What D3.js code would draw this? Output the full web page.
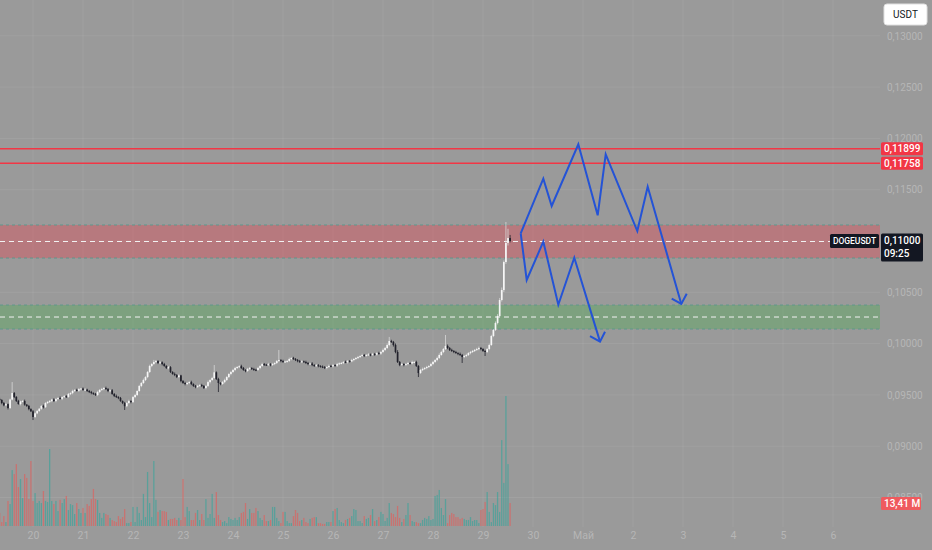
<!DOCTYPE html>
<html>
<head>
<meta charset="utf-8">
<script src="https://cdn.jsdelivr.net/npm/d3@7"></script>
<style>
html,body{margin:0;padding:0;background:#9a9a9a;}
svg{display:block;font-family:Roboto,"Liberation Sans",sans-serif;}
</style>
</head>
<body>
<div id="chart"></div>
<script>
// DOGEUSDT hourly candles, first one 19 Apr 08:00
// prices in units of 0.00001 USDT
const openFirst = 9460;
const closes = [
  9450,9421,9398,9410,9372,9455,9518,9480,9440,9411,9436,9440,9405,9392,9362,9340,9285,9320,9343,9365,9392,9380,9421,9431,
  9440,9455,9440,9460,9470,9462,9479,9488,9480,9509,9518,9538,9548,9540,9557,9562,9548,9552,9538,9528,9518,9509,9499,9528,
  9548,9557,9567,9557,9538,9545,9509,9489,9479,9470,9440,9421,9390,9421,9440,9430,9479,9499,9538,9587,9616,9645,9674,9723,
  9782,9801,9821,9830,9811,9818,9801,9782,9762,9770,9723,9704,9694,9674,9690,9635,9616,9606,9616,9625,9606,9587,9577,9587,
  9596,9587,9567,9587,9625,9645,9665,9720,9655,9616,9606,9625,9645,9674,9704,9723,9743,9762,9772,9780,9762,9743,9733,9752,
  9762,9752,9745,9743,9762,9782,9801,9795,9791,9800,9791,9801,9811,9830,9840,9830,9821,9826,9830,9850,9860,9850,9840,9830,
  9821,9828,9821,9811,9801,9806,9791,9782,9790,9782,9775,9772,9762,9772,9782,9778,9791,9785,9801,9808,9811,9821,9818,9830,
  9826,9840,9850,9860,9869,9879,9889,9882,9889,9895,9889,9899,9892,9908,9902,9918,9938,9957,9986,10025,10016,9986,9918,9821,
  9791,9801,9791,9801,9811,9806,9821,9821,9782,9713,9743,9752,9762,9772,9782,9801,9821,9840,9860,9889,9918,9947,9977,9957,
  9938,9928,9918,9908,9899,9889,9869,9879,9889,9908,9918,9928,9938,9947,9957,9947,9928,9918,9947,9986,10074,10133,10201,10269,
  10425,10522,10795,10981,11029,11000
];
const upperWick = [
  12,8,10,15,6,9,107,10,8,12,7,9,14,6,10,8,12,9,11,7,10,13,8,9,
  10,7,12,9,8,14,6,11,9,10,7,13,8,12,9,6,10,15,8,9,11,7,10,12,
  9,11,8,13,10,7,12,9,14,8,10,6,11,9,13,8,10,12,7,11,9,14,8,10,
  12,9,20,10,8,13,9,11,7,12,10,8,14,9,11,6,10,12,8,9,13,7,10,11,
  8,12,9,10,14,7,11,71,9,12,8,10,13,9,7,11,10,12,8,9,14,10,7,11,
  10,8,12,9,11,7,13,10,8,12,9,11,7,10,98,9,12,8,10,13,7,11,9,10,
  11,9,7,12,10,8,13,9,11,10,7,12,9,8,14,10,11,7,12,9,10,8,13,9,
  10,12,8,9,11,7,13,10,9,12,8,11,10,7,12,9,14,11,15,40,12,10,15,18,
  9,12,8,10,11,7,13,9,12,8,10,14,9,11,7,12,10,9,13,15,12,10,107,14,
  10,12,9,11,8,13,10,9,12,8,11,10,9,12,14,10,8,11,9,13,12,10,15,18,
  20,25,15,204,90,30
];
const lowerWick = [
  8,12,9,7,14,10,8,11,9,6,13,8,10,9,12,7,30,11,8,10,9,12,7,10,
  9,11,8,12,10,7,13,9,10,8,11,12,9,7,10,13,8,11,9,10,12,8,9,11,
  10,8,12,9,11,13,8,10,9,12,7,11,37,10,8,12,9,11,10,8,12,9,10,11,
  9,12,8,10,11,9,13,8,10,12,9,7,11,10,8,12,9,13,10,8,11,9,12,10,
  8,11,9,12,10,13,8,9,10,88,12,8,11,9,10,13,8,12,9,11,10,8,12,9,
  11,9,10,12,8,11,9,13,10,8,12,9,11,10,8,12,9,10,11,8,13,9,10,12,
  9,11,8,10,12,9,11,10,8,13,9,11,10,12,8,9,11,10,12,8,10,11,9,12,
  10,8,12,9,11,10,8,13,9,10,12,8,11,9,10,12,8,11,9,12,10,15,12,10,
  11,9,12,8,10,11,9,13,10,39,8,11,9,12,10,8,11,9,12,10,8,11,9,12,
  10,9,11,8,12,10,58,9,11,10,12,9,10,8,11,12,9,39,10,12,8,11,10,14,
  12,15,20,18,25,14
];
// volume, millions
const volumes = [
  7.6,2.3,5.8,2.3,14.6,12.8,32.6,30.3,36.1,22.7,
  27.4,16.3,30.3,28.0,15.7,37.9,14.6,19.2,13.4,14.6,
  13.4,20.4,14.6,14.0,44.9,14.6,12.8,14.6,8.7,15.2,
  13.4,15.7,17.5,9.3,12.8,12.2,7.0,13.4,9.9,7.6,
  10.5,7.6,12.8,11.7,15.7,21.6,15.7,15.2,7.6,
  4.7,7.6,7.0,6.4,4.7,3.5,2.9,2.3,5.8,4.1,
  5.2,9.9,1.7,1.7,2.3,11.1,2.3,11.1,7.6,3.5,
  18.7,5.2,31.5,13.4,5.2,37.9,15.2,8.2,9.3,8.7,
  8.7,8.2,3.5,4.1,4.1,4.7,3.5,4.7,3.5,27.4,
  5.2,11.1,8.7,3.5,3.5,7.6,9.3,3.5,7.0,
  3.5,15.7,4.7,7.0,18.7,4.7,19.8,6.4,3.5,2.3,
  2.9,1.7,5.2,4.1,3.5,4.7,3.5,5.2,7.6,8.2,
  13.4,
  4.1,9.9,7.6,7.6,10.5,8.7,4.7,3.5,6.4,2.9,2.9,3.5,11.1,11.1,4.7,2.9,1.7,8.2,8.2,2.9,1.7,1.7,5.8,9.3,7.6,
  2.9,3.5,4.7,2.3,1.7,4.1,4.7,5.2,5.2,1.7,1.7,1.2,1.2,2.3,2.3,2.3,8.7,9.9,10.5,3.5,2.3,1.7,3.5,4.1,4.7,
  5.8,9.9,9.3,2.9,2.9,1.7,5.8,4.1,4.7,6.4,9.9,2.9,3.5,5.2,8.2,7.0,2.9,4.7,13.4,7.6,7.0,5.2,11.7,4.7,
  2.3,4.1,6.4,13.4,6.4,2.9,2.3,2.3,1.7,1.7,3.5,4.7,4.1,5.8,3.5,4.1,17.5,18.1,21.0,10.5,6.4,15.7,1.7,6.4,
  7.6,7.0,5.2,5.2,4.1,4.7,4.1,3.5,3.5,
  5.2,2.9,3.5,3.5,1.7,9.3,9.9,14.0,19.8,8.2,2.3,13.4,12.2,19.8,8.2,50.1,25.1,75.8,36.1,13.41
];

const priceTicks = [0.085,0.09,0.095,0.10,0.105,0.11,0.115,0.12,0.125,0.13];
const xTickLabels = ["20","21","22","23","24","25","26","27","28","29","30","Май","2","3","4","5","6"];
const levels = [0.11899, 0.11758];
const redZone = [0.10834, 0.11156];
const greenZone = [0.10142, 0.10376];
const lastPrice = 0.11000;
const lastVolume = "13,41 M";
const countdown = "09:25";
const symbol = "DOGEUSDT";

// forecast drawings: [time, price]
const upperPath = [
  ["2023-04-29 18:06",0.11075],["2023-04-30 04:57",0.11607],["2023-04-30 08:58",0.11341],
  ["2023-04-30 21:45",0.11942],["2023-05-01 07:03",0.11250],["2023-05-01 10:54",0.11845],
  ["2023-05-02 02:04",0.11097],["2023-05-02 07:03",0.11529],["2023-05-02 23:11",0.10386]
];
const upperArrow = [["2023-05-02 18:35",0.10438],["2023-05-02 23:11",0.10386],["2023-05-03 01:47",0.10486]];
const lowerPath = [
  ["2023-04-29 18:06",0.11075],["2023-04-29 20:59",0.10620],["2023-04-30 04:57",0.10993],
  ["2023-04-30 12:09",0.10379],["2023-04-30 19:49",0.10837],["2023-05-01 08:10",0.10019]
];
const lowerArrow = [["2023-05-01 03:22",0.10074],["2023-05-01 08:10",0.10019],["2023-05-01 10:34",0.10116]];

const width = 932, height = 550;
const plotRight = 880, plotBottom = 527;
const bg = "#9a9a9a", axisText = "#b6b6b6";

const parse = d3.timeParse("%Y-%m-%d %H:%M");
const t0 = new Date(2023, 3, 19, 8);

const candles = closes.map((c, i) => {
  const o = i ? closes[i-1] : openFirst;
  return {
    t: d3.timeHour.offset(t0, i),
    o: o / 1e5, c: c / 1e5,
    h: (Math.max(o, c) + upperWick[i]) / 1e5,
    l: (Math.min(o, c) - lowerWick[i]) / 1e5,
    v: volumes[i]
  };
});

const x = d3.scaleTime()
  .domain([new Date(2023, 3, 20), new Date(2023, 4, 7)])
  .range([33, 883]);
const y = d3.scaleLinear()
  .domain([0.085, 0.13])
  .range([497.5, 35.8]);
const yv = d3.scaleLinear()
  .domain([0, 80])
  .range([526, 388.8]);

const ru = d3.formatLocale({decimal: ",", thousands: " ", grouping: [3], currency: ["", ""]});
const fmt = ru.format(".5f");
const dayTicks = d3.timeDay.range(new Date(2023, 3, 20), new Date(2023, 4, 7));

let svg = d3.select("#chart").append("svg")
  .attr("width", width)
  .attr("height", height);

svg.append("rect").attr("width", width).attr("height", height).attr("fill", bg);

svg.append("defs").append("clipPath").attr("id", "plot")
  .append("rect").attr("width", plotRight).attr("height", plotBottom);

// grid
let grid = svg.append("g").attr("clip-path", "url(#plot)");
grid.selectAll(".vg").data(dayTicks).enter().append("line")
  .attr("x1", d => x(d)).attr("x2", d => x(d))
  .attr("y1", 0).attr("y2", plotBottom)
  .attr("stroke", "rgba(255,255,255,0.07)");
grid.selectAll(".hg").data(priceTicks).enter().append("line")
  .attr("x1", 0).attr("x2", plotRight)
  .attr("y1", d => y(d)).attr("y2", d => y(d))
  .attr("stroke", "rgba(255,255,255,0.07)");

let plot = svg.append("g").attr("clip-path", "url(#plot)");

// zones
function zone(range, fill) {
  plot.append("rect")
    .attr("x", 0).attr("width", plotRight)
    .attr("y", y(range[1])).attr("height", y(range[0]) - y(range[1]))
    .attr("fill", fill);
  range.forEach(p => {
    plot.append("line")
      .attr("x1", 0).attr("x2", plotRight)
      .attr("y1", y(p)).attr("y2", y(p))
      .attr("stroke", "#5f978c").attr("stroke-width", 1)
      .attr("stroke-dasharray", "3,3");
  });
  const mid = (range[0] + range[1]) / 2;
  plot.append("line")
    .attr("x1", 0).attr("x2", plotRight)
    .attr("y1", y(mid)).attr("y2", y(mid))
    .attr("stroke", "#f2f2f2").attr("stroke-width", 1)
    .attr("stroke-dasharray", "5,4");
}
zone(redZone, "rgba(242,54,69,0.33)");
zone(greenZone, "rgba(76,175,80,0.36)");

// levels
plot.selectAll(".lvl").data(levels).enter().append("line")
  .attr("x1", 0).attr("x2", plotRight)
  .attr("y1", d => y(d)).attr("y2", d => y(d))
  .attr("stroke", "#f23645").attr("stroke-width", 1.5);

// volume
plot.append("g").selectAll("rect").data(candles).enter().append("rect")
  .attr("x", d => x(d.t) - 0.65)
  .attr("width", 1.3)
  .attr("y", d => yv(d.v))
  .attr("height", d => yv(0) - yv(d.v))
  .attr("fill", d => d.c >= d.o ? "rgba(38,166,154,0.55)" : "rgba(239,83,80,0.55)");

// candles
const upCol = "#f6f6f6", downCol = "#22222c";
let cg = plot.append("g");
cg.selectAll("line").data(candles).enter().append("line")
  .attr("x1", d => x(d.t)).attr("x2", d => x(d.t))
  .attr("y1", d => y(d.h)).attr("y2", d => y(d.l))
  .attr("stroke", d => d.c >= d.o ? "#d8d8d8" : downCol)
  .attr("stroke-width", 0.8);
cg.selectAll("rect").data(candles).enter().append("rect")
  .attr("x", d => x(d.t) - 0.85)
  .attr("width", 1.7)
  .attr("y", d => y(Math.max(d.o, d.c)))
  .attr("height", d => Math.max(1, Math.abs(y(d.o) - y(d.c))))
  .attr("fill", d => d.c >= d.o ? upCol : downCol);

// forecast
const line = d3.line().x(d => x(parse(d[0]))).y(d => y(d[1]));
[upperPath, upperArrow, lowerPath, lowerArrow].forEach(pts => {
  plot.append("path")
    .attr("d", line(pts))
    .attr("fill", "none")
    .attr("stroke", "#2453d6")
    .attr("stroke-width", 2)
    .attr("stroke-linejoin", "miter");
});

// x axis
let xAxis = svg.append("g")
  .attr("transform", `translate(0,${plotBottom + 5})`)
  .call(d3.axisBottom(x).tickValues(dayTicks).tickFormat((d, i) => xTickLabels[i]).tickSize(0).tickPadding(0));
xAxis.select(".domain").remove();
xAxis.selectAll("text")
  .attr("fill", axisText)
  .style("font-size", "10.5px")
  .style("font-family", "Roboto, sans-serif");

// y axis
let yAxis = svg.append("g")
  .attr("transform", `translate(${plotRight + 2},0)`)
  .call(d3.axisRight(y).tickValues(priceTicks).tickFormat(fmt).tickSize(0).tickPadding(5));
yAxis.select(".domain").remove();
yAxis.selectAll("text")
  .attr("fill", axisText)
  .style("font-size", "10px")
  .style("font-family", "Roboto, sans-serif");

// price labels
function tag(yc, h, fill, lines, w) {
  svg.append("rect")
    .attr("x", plotRight + 1).attr("y", yc - h / 2)
    .attr("width", w || 42).attr("height", h)
    .attr("rx", 1.5)
    .attr("fill", fill);
  lines.forEach((txt, i) => {
    svg.append("text")
      .attr("x", plotRight + 4)
      .attr("y", yc - h / 2 + 6.5 + i * 13)
      .attr("dy", "0.35em")
      .attr("fill", "#ffffff")
      .style("font-size", "10px")
      .style("font-weight", "500")
      .text(txt);
  });
}
levels.forEach(p => tag(y(p), 13, "#f23645", [fmt(p)]));
tag(y(lastPrice) + 6.5, 28, "#131722", [fmt(lastPrice), countdown]);
tag(yv(13.41) + 0.5, 13, "#ef5a5e", [lastVolume], 40);

// symbol label
svg.append("rect")
  .attr("x", 830).attr("y", y(lastPrice) - 7)
  .attr("width", 49).attr("height", 14)
  .attr("rx", 1.5)
  .attr("fill", "#131722");
svg.append("text")
  .attr("x", 854.5).attr("y", y(lastPrice))
  .attr("dy", "0.35em")
  .attr("text-anchor", "middle")
  .attr("fill", "#ffffff")
  .style("font-size", "8.5px")
  .style("font-weight", "500")
  .text(symbol);

// currency button
svg.append("rect")
  .attr("x", 884).attr("y", 4)
  .attr("width", 43).attr("height", 21)
  .attr("rx", 3)
  .attr("fill", "#ffffff")
  .attr("stroke", "#e0e0e0");
svg.append("text")
  .attr("x", 905.5).attr("y", 14.5)
  .attr("dy", "0.35em")
  .attr("text-anchor", "middle")
  .attr("fill", "#131722")
  .style("font-size", "10px")
  .text("USDT");
</script>
</body>
</html>
